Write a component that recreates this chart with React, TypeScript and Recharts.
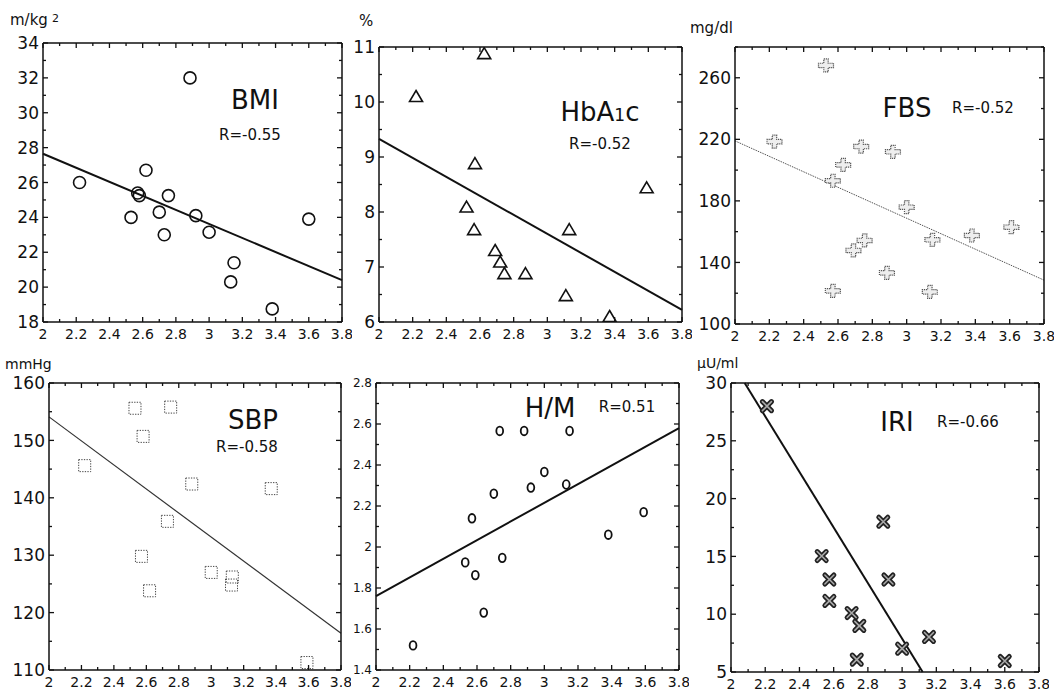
import React from 'react';
import { ScatterChart, Scatter, XAxis, YAxis, ReferenceLine } from 'recharts';

const FONT = '"DejaVu Sans", Verdana, sans-serif';
const INK = '#111';

// shared x axis (2.0 - 3.8)
const xDomain: [number, number] = [2, 3.8];
const xMajor = [2, 2.2, 2.4, 2.6, 2.8, 3, 3.2, 3.4, 3.6, 3.8];
const fitX = [2, 3.8];

// BMI
const bmiX = [2.22, 2.885, 2.62, 2.57, 2.58, 2.755, 2.53, 2.7, 2.92, 2.73, 3.0, 3.15, 3.13, 3.38, 3.6];
const bmiY = [26.0, 32.0, 26.7, 25.4, 25.25, 25.25, 24.0, 24.3, 24.1, 23.0, 23.15, 21.4, 20.3, 18.75, 23.9];
const bmiFitY = [27.65, 20.4];
const bmiMajor = [18, 20, 22, 24, 26, 28, 30, 32, 34];

// HbA1c
const hbX = [2.22, 2.625, 2.57, 2.52, 2.565, 2.69, 2.72, 2.745, 2.87, 3.13, 3.11, 3.37, 3.59];
const hbY = [10.1, 10.88, 8.88, 8.09, 7.68, 7.3, 7.09, 6.88, 6.88, 7.68, 6.48, 6.1, 8.44];
const hbFitY = [9.33, 6.22];
const hbMajor = [6, 7, 8, 9, 10, 11];

// FBS
const fbsX = [2.53, 2.23, 2.735, 2.92, 2.63, 2.57, 3.0, 2.755, 2.69, 2.885, 2.57, 3.135, 3.15, 3.38, 3.61];
const fbsY = [268, 218.5, 215.3, 211.9, 203.4, 193.1, 175.9, 154.3, 147.8, 133.2, 121.5, 120.9, 154.7, 157.5, 162.9];
const fbsFitY = [219, 128.5];
const fbsMajor = [100, 140, 180, 220, 260];

// SBP
const sbpX = [2.53, 2.75, 2.58, 2.22, 2.88, 3.37, 2.73, 2.57, 3.0, 3.13, 3.125, 2.62, 3.59];
const sbpY = [155.6, 155.8, 150.7, 145.6, 142.4, 141.6, 135.9, 129.8, 127.0, 126.2, 124.8, 123.8, 111.3];
const sbpFitY = [154.1, 116.4];
const sbpMajor = [110, 120, 130, 140, 150, 160];

// H/M
const hmX = [2.735, 2.88, 3.15, 3.0, 2.92, 3.13, 2.7, 2.57, 3.59, 3.38, 2.75, 2.53, 2.59, 2.64, 2.22];
const hmY = [2.566, 2.566, 2.566, 2.366, 2.29, 2.305, 2.26, 2.14, 2.17, 2.06, 1.947, 1.925, 1.863, 1.68, 1.52];
const hmFitY = [1.76, 2.58];
const hmMajor = [1.4, 1.6, 1.8, 2, 2.2, 2.4, 2.6, 2.8];

// IRI
const iriX = [2.21, 2.89, 2.53, 2.575, 2.92, 2.575, 2.705, 2.75, 3.0, 3.157, 2.735, 3.6];
const iriY = [28, 18, 15.03, 13.0, 13.0, 11.15, 10.1, 8.99, 7.02, 8.03, 6.07, 5.95];
const iriFitX = [2.08, 3.12];
const iriFitY = [30, 5];
const iriMajor = [5, 10, 15, 20, 25, 30];

const steps = (lo: number, hi: number, step: number) => {
  const out: number[] = [];
  for (let v = lo; v <= hi + 1e-9; v += step) out.push(Math.round(v * 1000) / 1000);
  return out;
};
const inList = (list: number[], v: number) => list.some((m) => Math.abs(m - v) < 1e-6);

// marker shapes
const Circle = ({ cx, cy }: any) => <circle cx={cx} cy={cy} r={6} fill="none" stroke={INK} strokeWidth={1.6} />;
const Triangle = ({ cx, cy }: any) => (
  <path d={`M${cx},${cy - 6} L${cx + 6.5},${cy + 5} L${cx - 6.5},${cy + 5} Z`} fill="none" stroke={INK} strokeWidth={1.6} />
);
const Plus = ({ cx, cy }: any) => {
  const a = 2.2, h = 7.5, v = 6.5;
  const d = `M${cx - a},${cy - v} L${cx + a},${cy - v} L${cx + a},${cy - a} L${cx + h},${cy - a} L${cx + h},${cy + a} L${cx + a},${cy + a} L${cx + a},${cy + v} L${cx - a},${cy + v} L${cx - a},${cy + a} L${cx - h},${cy + a} L${cx - h},${cy - a} L${cx - a},${cy - a} Z`;
  return <path d={d} fill="#eee" stroke="#555" strokeWidth={1.2} strokeDasharray="1.2 0.8" />;
};
const Square = ({ cx, cy }: any) => (
  <rect x={cx - 6} y={cy - 6} width={12} height={12} fill="none" stroke="#444" strokeWidth={1} strokeDasharray="1.3 1.3" />
);
const Oval = ({ cx, cy }: any) => <ellipse cx={cx} cy={cy} rx={3.4} ry={4.3} fill="none" stroke={INK} strokeWidth={1.8} />;
const Cross = ({ cx, cy }: any) => {
  const s = 4.5;
  const d = `M${cx - s},${cy - s} L${cx + s},${cy + s} M${cx + s},${cy - s} L${cx - s},${cy + s}`;
  return (
    <g>
      <path d={d} stroke="#222" strokeWidth={5} strokeLinecap="round" />
      <path d={d} stroke="#aaa" strokeWidth={1.6} strokeLinecap="round" />
    </g>
  );
};

type PanelProps = {
  box: [number, number, number, number];
  xs: number[];
  ys: number[];
  lineX: number[];
  lineY: number[];
  yDomain: [number, number];
  yMajor: number[];
  yStep: number;
  yFont: number;
  shape: (p: any) => React.ReactElement;
  fitStroke: string;
  fitWidth: number;
  fitDash?: string;
};

const Panel = (p: PanelProps) => {
  const [x0, y0, x1, y1] = p.box;
  const W = x1 - x0 + 50;
  const H = y1 - y0 + 30;
  const data = p.xs.map((x, i) => ({ x, y: p.ys[i] }));
  const xTicks = steps(2, 3.8, 0.1);
  const yTicks = steps(p.yDomain[0], p.yDomain[1], p.yStep);
  const axisLine = { stroke: INK, strokeWidth: 1.5 };

  const bottomTick = ({ x, y, payload }: any) => {
    const major = inList(xMajor, payload.value);
    return (
      <g>
        <line x1={x} y1={y} x2={x} y2={y - (major ? 5 : 3)} stroke={INK} strokeWidth={1.3} />
        {major && (
          <text x={x} y={y + 17} textAnchor="middle" fontSize={14} fontFamily={FONT} fill={INK}>
            {String(payload.value)}
          </text>
        )}
      </g>
    );
  };
  const topTick = ({ x, y, payload }: any) => {
    const major = inList(xMajor, payload.value);
    return <line x1={x} y1={y} x2={x} y2={y + (major ? 5 : 3)} stroke={INK} strokeWidth={1.3} />;
  };
  const leftTick = ({ x, y, payload }: any) => {
    const major = inList(p.yMajor, payload.value);
    return (
      <g>
        <line x1={x} y1={y} x2={x + (major ? 5 : 3)} y2={y} stroke={INK} strokeWidth={1.3} />
        {major && (
          <text x={x - 4} y={y} dy="0.36em" textAnchor="end" fontSize={p.yFont} fontFamily={FONT} fill={INK}>
            {String(payload.value)}
          </text>
        )}
      </g>
    );
  };
  const rightTick = ({ x, y, payload }: any) => {
    const major = inList(p.yMajor, payload.value);
    return <line x1={x} y1={y} x2={x - (major ? 5 : 3)} y2={y} stroke={INK} strokeWidth={1.3} />;
  };

  return (
    <div style={{ position: 'absolute', left: x0 - 40, top: y0 - 10 }}>
      <ScatterChart width={W} height={H} margin={{ top: 0, right: 0, bottom: 0, left: 0 }}>
        <XAxis xAxisId="b" dataKey="x" type="number" orientation="bottom" height={20} domain={xDomain} ticks={xTicks}
          interval={0} tickSize={0} tickMargin={0} tickLine={false} axisLine={axisLine} tick={bottomTick} allowDataOverflow />
        <XAxis xAxisId="t" dataKey="x" type="number" orientation="top" height={10} domain={xDomain} ticks={xTicks}
          interval={0} tickSize={0} tickMargin={0} tickLine={false} axisLine={axisLine} tick={topTick} allowDataOverflow />
        <YAxis yAxisId="l" dataKey="y" type="number" orientation="left" width={40} domain={p.yDomain} ticks={yTicks}
          interval={0} tickSize={0} tickMargin={0} tickLine={false} axisLine={axisLine} tick={leftTick} allowDataOverflow />
        <YAxis yAxisId="r" dataKey="y" type="number" orientation="right" width={10} domain={p.yDomain} ticks={yTicks}
          interval={0} tickSize={0} tickMargin={0} tickLine={false} axisLine={axisLine} tick={rightTick} allowDataOverflow />
        <ReferenceLine xAxisId="b" yAxisId="l" ifOverflow="visible"
          segment={[{ x: p.lineX[0], y: p.lineY[0] }, { x: p.lineX[1], y: p.lineY[1] }]}
          stroke={p.fitStroke} strokeWidth={p.fitWidth} strokeDasharray={p.fitDash} />
        <Scatter xAxisId="b" yAxisId="l" data={data} shape={p.shape} isAnimationActive={false} />
        <Scatter xAxisId="t" yAxisId="r" data={data} shape={() => <g />} isAnimationActive={false} />
      </ScatterChart>
    </div>
  );
};

const Label = ({ x, y, size, children, anchor = 'center' }: any) => (
  <div
    style={{
      position: 'absolute', left: x, top: y, fontFamily: FONT, fontSize: size, color: INK, whiteSpace: 'nowrap',
      transform: anchor === 'center' ? 'translate(-50%, -50%)' : 'translate(0, -50%)', lineHeight: 1,
    }}
  >
    {children}
  </div>
);

export default function App() {
  return (
    <div style={{ position: 'fixed', left: 0, top: 0, width: 1054, height: 693, background: '#fff', overflow: 'hidden' }}>
      <Panel box={[43, 43, 342, 322]} xs={bmiX} ys={bmiY} lineX={fitX} lineY={bmiFitY} yDomain={[18, 34]} yMajor={bmiMajor}
        yStep={1} yFont={17} shape={Circle} fitStroke={INK} fitWidth={2} />
      <Panel box={[379, 47, 682, 322]} xs={hbX} ys={hbY} lineX={fitX} lineY={hbFitY} yDomain={[6, 11]} yMajor={hbMajor}
        yStep={0.5} yFont={17} shape={Triangle} fitStroke={INK} fitWidth={2} />
      <Panel box={[735, 47, 1044, 324]} xs={fbsX} ys={fbsY} lineX={fitX} lineY={fbsFitY} yDomain={[100, 280]} yMajor={fbsMajor}
        yStep={20} yFont={17} shape={Plus} fitStroke="#555" fitWidth={1} fitDash="1.5 1" />
      <Panel box={[49, 383, 341, 670]} xs={sbpX} ys={sbpY} lineX={fitX} lineY={sbpFitY} yDomain={[110, 160]} yMajor={sbpMajor}
        yStep={5} yFont={17} shape={Square} fitStroke="#333" fitWidth={1.2} />
      <Panel box={[376, 383, 679, 670]} xs={hmX} ys={hmY} lineX={fitX} lineY={hmFitY} yDomain={[1.4, 2.8]} yMajor={hmMajor}
        yStep={0.1} yFont={12} shape={Oval} fitStroke={INK} fitWidth={2} />
      <Panel box={[731, 383, 1039, 672]} xs={iriX} ys={iriY} lineX={iriFitX} lineY={iriFitY} yDomain={[5, 30]} yMajor={iriMajor}
        yStep={2.5} yFont={17} shape={Cross} fitStroke={INK} fitWidth={2} />

      {/* units */}
      <Label x={10} y={20} size={15} anchor="left">m/kg<span style={{ fontSize: 11, verticalAlign: 'top', marginLeft: 4 }}>2</span></Label>
      <Label x={359} y={21} size={15} anchor="left">%</Label>
      <Label x={690} y={28} size={15} anchor="left">mg/dl</Label>
      <Label x={5} y={364} size={14} anchor="left">mmHg</Label>
      <Label x={697} y={363} size={14} anchor="left">μU/ml</Label>

      {/* titles */}
      <Label x={255} y={100} size={26}>BMI</Label>
      <Label x={250} y={135} size={15}>R=-0.55</Label>
      <Label x={600} y={112} size={26}>HbA<span style={{ fontSize: 17 }}>1</span>c</Label>
      <Label x={600} y={144} size={15}>R=-0.52</Label>
      <Label x={907} y={108} size={26}>FBS</Label>
      <Label x={983} y={108} size={15}>R=-0.52</Label>
      <Label x={253} y={420} size={26}>SBP</Label>
      <Label x={247} y={447} size={15}>R=-0.58</Label>
      <Label x={550} y={408} size={26}>H/M</Label>
      <Label x={627} y={407} size={15}>R=0.51</Label>
      <Label x={897} y={422} size={26}>IRI</Label>
      <Label x={968} y={422} size={15}>R=-0.66</Label>
    </div>
  );
}
